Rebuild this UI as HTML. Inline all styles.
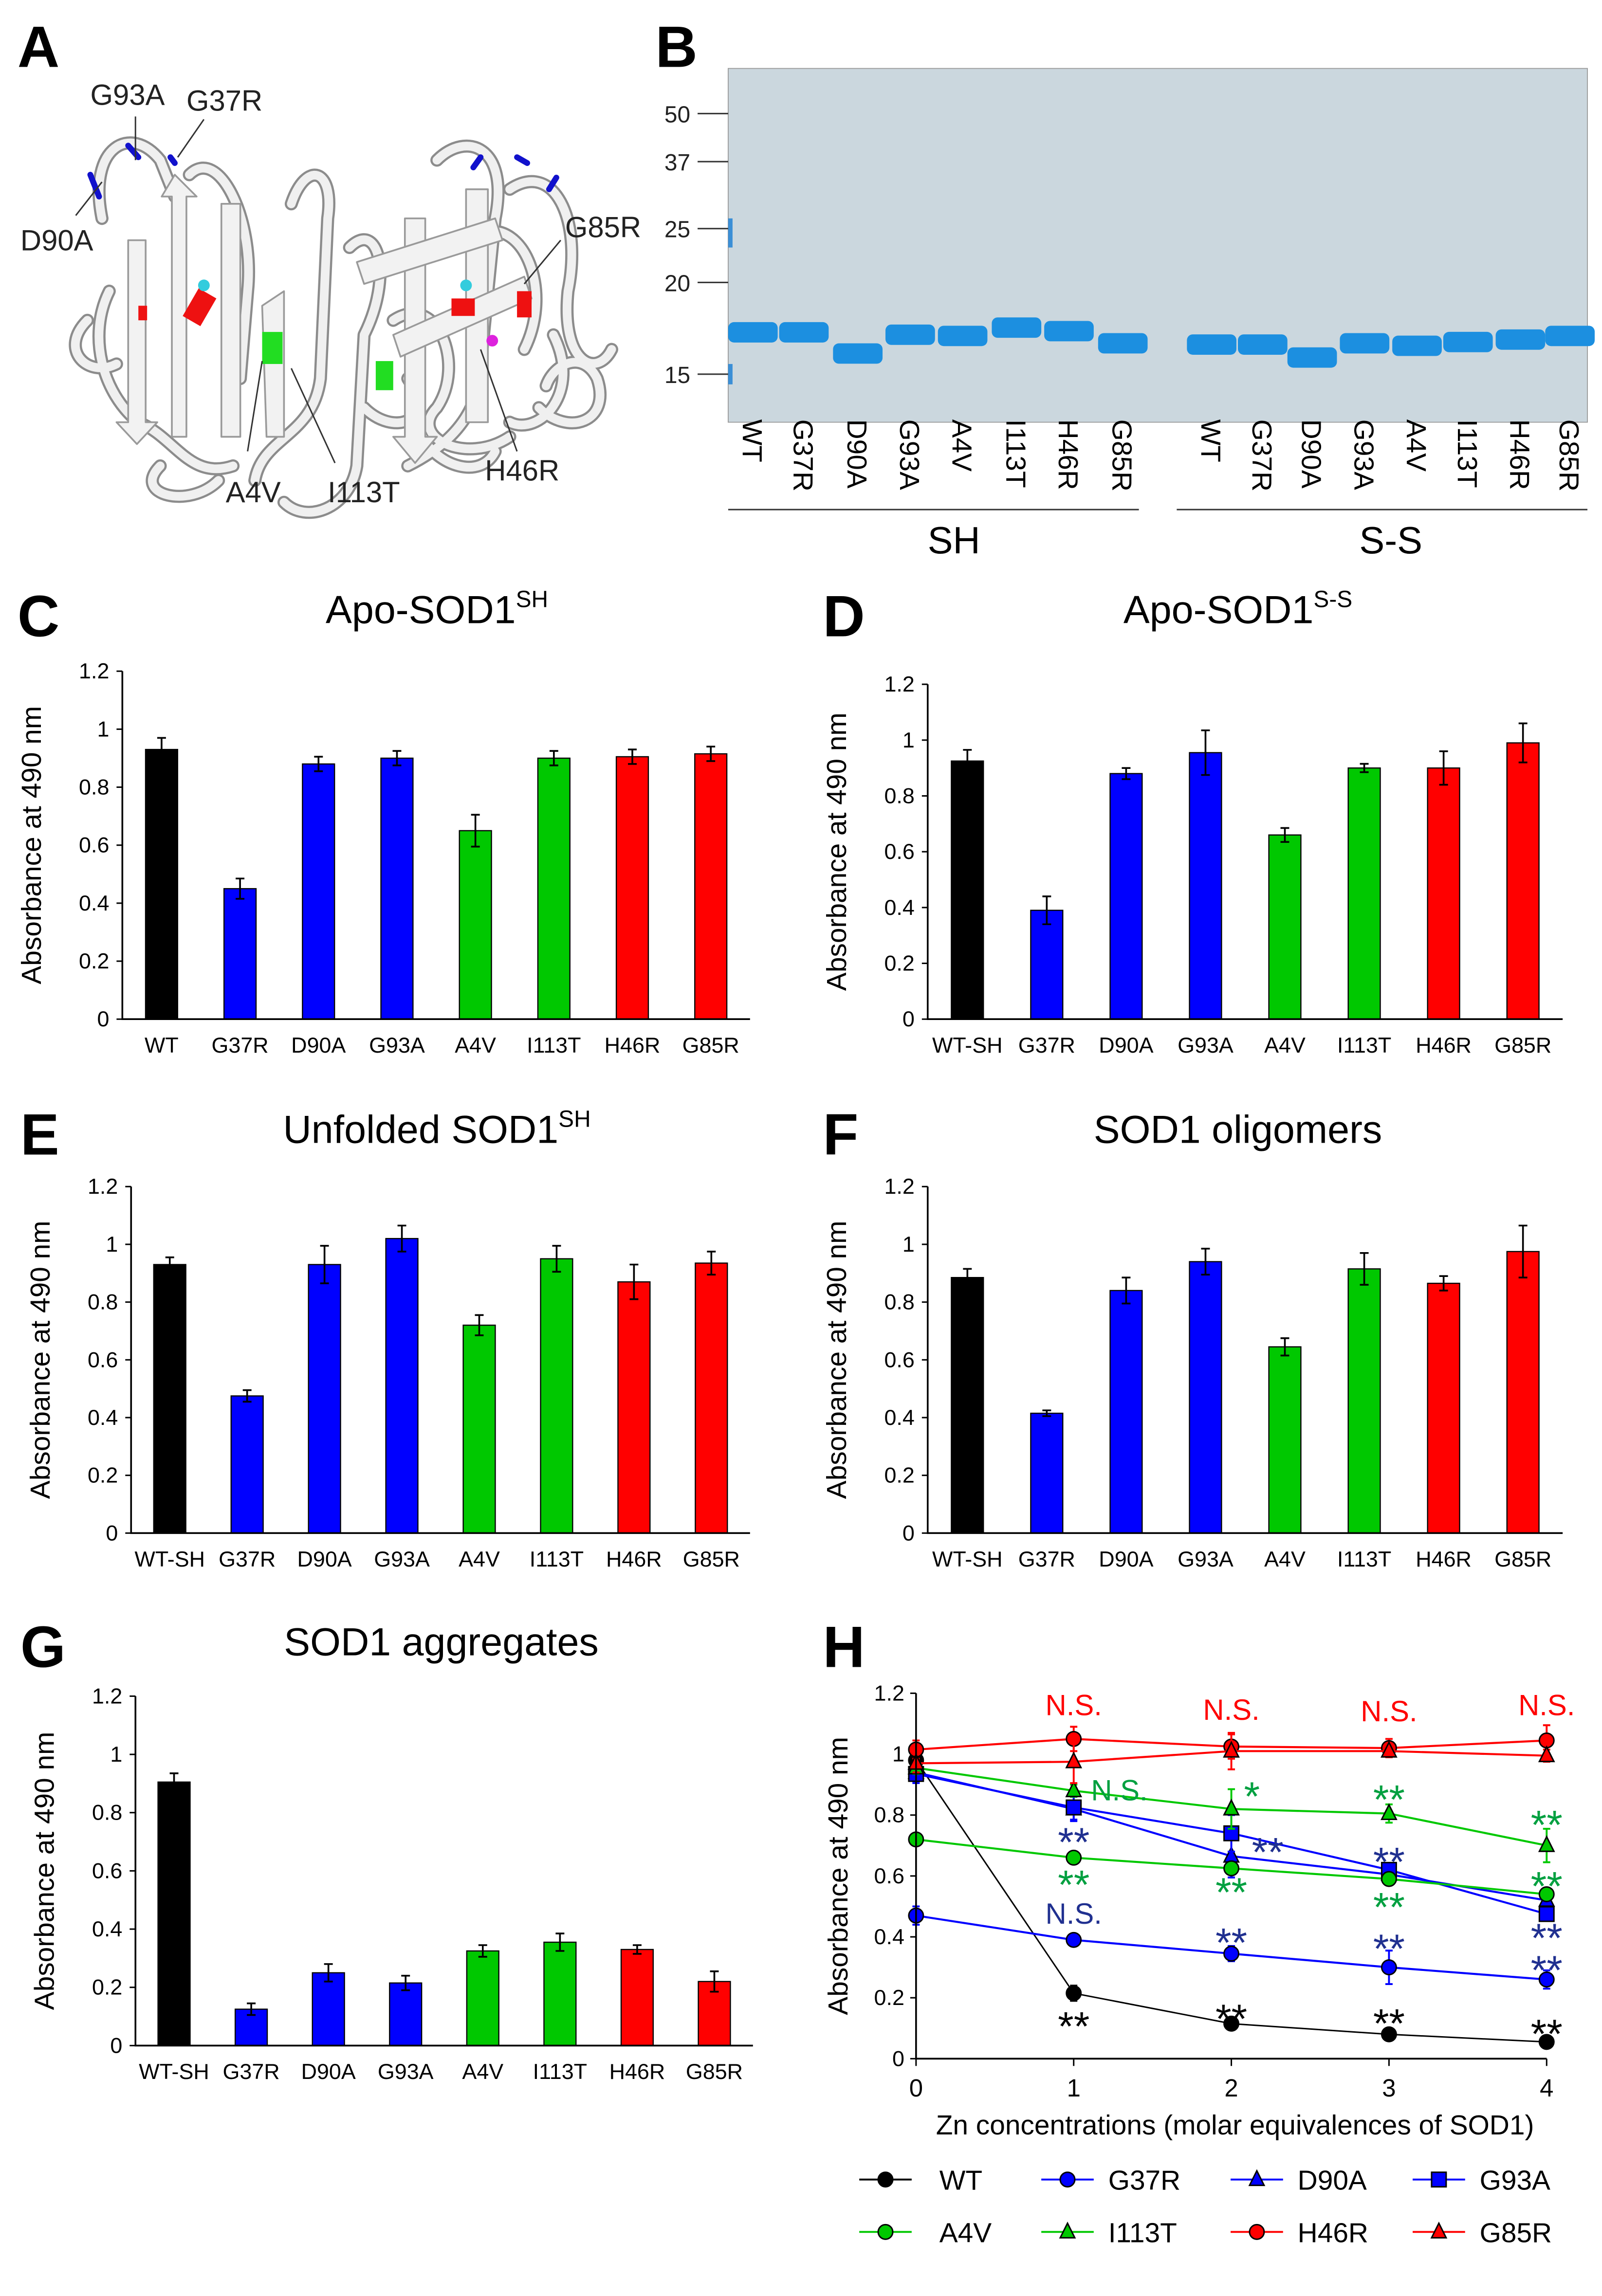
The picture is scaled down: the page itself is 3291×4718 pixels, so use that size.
<!DOCTYPE html>
<html><head><meta charset="utf-8"><style>
html,body{margin:0;padding:0;background:#fff}
svg{display:block;font-family:"Liberation Sans",Arial,sans-serif}
</style></head><body>
<svg id="fig" xmlns="http://www.w3.org/2000/svg" width="3291" height="4718" viewBox="0 0 1100 1577">
<rect x="0" y="0" width="1100" height="1577" fill="#fff"/>
<text x="12" y="46" font-size="40" font-weight="bold">A</text>
<text x="450" y="46" font-size="40" font-weight="bold">B</text>
<!-- Panel A: structure illustration -->
<g fill="none" stroke-linecap="round" stroke-linejoin="round">
 <g stroke="#8c8c8c" stroke-width="9">
  <path d="M70 150 C60 100 90 85 110 110 L120 135 M130 120 C150 100 175 150 170 200 L165 260 M75 200 C60 230 70 270 95 290 C120 300 130 330 160 320"/>
  <path d="M200 140 C210 110 230 115 225 150 L220 260 C215 300 180 300 175 330 M240 170 C260 150 270 190 250 230 L245 320 C240 350 210 360 195 345"/>
  <path d="M60 220 C40 240 60 260 80 250 M110 320 C90 340 130 350 150 330 M250 280 C270 300 300 290 280 260"/>
  <path d="M300 110 C320 90 350 100 340 150 L330 250 C330 290 300 310 280 320 M350 130 C380 110 400 150 390 200 C385 250 410 260 420 240"/>
  <path d="M330 160 C360 150 380 200 360 240 M270 220 C300 200 320 250 300 280 C280 300 320 320 350 300 M380 230 C400 270 370 300 350 290"/>
  <path d="M290 300 C300 320 330 330 340 310 M370 280 C390 300 420 290 410 260 C400 240 380 250 375 265"/>
 </g>
 <g stroke="#f0f0f0" stroke-width="6">
  <path d="M70 150 C60 100 90 85 110 110 L120 135 M130 120 C150 100 175 150 170 200 L165 260 M75 200 C60 230 70 270 95 290 C120 300 130 330 160 320"/>
  <path d="M200 140 C210 110 230 115 225 150 L220 260 C215 300 180 300 175 330 M240 170 C260 150 270 190 250 230 L245 320 C240 350 210 360 195 345"/>
  <path d="M60 220 C40 240 60 260 80 250 M110 320 C90 340 130 350 150 330 M250 280 C270 300 300 290 280 260"/>
  <path d="M300 110 C320 90 350 100 340 150 L330 250 C330 290 300 310 280 320 M350 130 C380 110 400 150 390 200 C385 250 410 260 420 240"/>
  <path d="M330 160 C360 150 380 200 360 240 M270 220 C300 200 320 250 300 280 C280 300 320 320 350 300 M380 230 C400 270 370 300 350 290"/>
  <path d="M290 300 C300 320 330 330 340 310 M370 280 C390 300 420 290 410 260 C400 240 380 250 375 265"/>
 </g>
 <g fill="#f2f2f2" stroke="#9a9a9a" stroke-width="1.2">
  <polygon points="88,165 100,165 100,290 108,290 94,305 80,290 88,290"/>
  <polygon points="120,120 135,135 128,135 128,300 118,300 118,135 111,135"/>
  <polygon points="152,140 165,140 165,300 152,300"/>
  <polygon points="180,210 195,200 195,300 183,300"/>
  <polygon points="278,150 292,150 292,300 300,300 285,318 270,300 278,300"/>
  <polygon points="320,130 335,130 335,290 320,290"/>
  <polygon points="245,180 340,150 345,165 250,195"/>
  <polygon points="270,230 360,190 365,205 275,245"/>
 </g>
 <rect x="180" y="228" width="14" height="22" fill="#22dd22"/>
 <rect x="258" y="248" width="12" height="20" fill="#22dd22"/>
 <rect x="130" y="200" width="14" height="22" fill="#ee1111" transform="rotate(30 137 211)"/>
 <rect x="310" y="205" width="16" height="12" fill="#ee1111"/>
 <rect x="355" y="200" width="10" height="18" fill="#ee1111"/>
 <rect x="95" y="210" width="6" height="10" fill="#ee1111"/>
 <circle cx="140" cy="196" r="4" fill="#33ccdd"/>
 <circle cx="320" cy="196" r="4" fill="#33ccdd"/>
 <circle cx="338" cy="234" r="4" fill="#dd22dd"/>
 <g stroke="#1111cc" stroke-width="4"><path d="M88 100 L95 108 M62 120 L68 135 M117 108 L120 112 M325 115 L330 108 M355 108 L362 112 M377 130 L382 122"/></g>
</g>
<g id="annA" stroke="#333" stroke-width="1">
 <line x1="93" y1="80" x2="93" y2="110"/><line x1="140" y1="82" x2="122" y2="108"/>
 <line x1="52" y1="148" x2="70" y2="125"/><line x1="385" y1="165" x2="360" y2="195"/>
 <line x1="170" y1="310" x2="180" y2="248"/><line x1="230" y1="318" x2="200" y2="253"/>
 <line x1="355" y1="310" x2="330" y2="240"/>
</g>
<g font-size="20" fill="#222">
 <text x="62" y="72">G93A</text><text x="128" y="76">G37R</text><text x="14" y="172">D90A</text>
 <text x="388" y="163">G85R</text><text x="155" y="345">A4V</text><text x="225" y="345">I113T</text><text x="333" y="330">H46R</text>
</g>
<!-- Panel B gel -->
<g>
 <rect x="500" y="47" width="590" height="243" fill="#cbd7de" stroke="#999" stroke-width="0.6"/>
 <rect x="500" y="150" width="3" height="20" fill="#3b8fd6"/><rect x="500" y="250" width="3" height="14" fill="#3b8fd6"/>
</g>
<g id="gelLanes"></g>
<g font-size="16" fill="#222" text-anchor="end">
 <text x="474" y="84">50</text><text x="474" y="117">37</text><text x="474" y="163">25</text><text x="474" y="200">20</text><text x="474" y="263">15</text>
</g>
<g stroke="#333" stroke-width="1">
 <line x1="479" y1="78" x2="500" y2="78"/><line x1="479" y1="111" x2="500" y2="111"/><line x1="479" y1="157" x2="500" y2="157"/><line x1="479" y1="194" x2="500" y2="194"/><line x1="479" y1="257" x2="500" y2="257"/>
 <line x1="500" y1="350" x2="782" y2="350"/><line x1="808" y1="350" x2="1090" y2="350"/>
</g>
<text x="655" y="380" font-size="26" text-anchor="middle">SH</text>
<text x="955" y="380" font-size="26" text-anchor="middle">S-S</text>
<g id="charts"></g>
</svg>
<script>
// ---------- data ----------
var gelLanes = ["WT","G37R","D90A","G93A","A4V","I113T","H46R","G85R"];
var gelSHkDa = [18.2,18.2,16.5,18.0,17.9,18.6,18.3,17.3];
var gelSSkDa = [17.2,17.2,16.2,17.3,17.1,17.4,17.6,17.9];

var barCats = ["WT","G37R","D90A","G93A","A4V","I113T","H46R","G85R"];
var barCatsB = ["WT-SH","G37R","D90A","G93A","A4V","I113T","H46R","G85R"];
var barGroups = ["wt","blue","blue","blue","green","green","red","red"];
var yTicks = [0,0.2,0.4,0.6,0.8,1,1.2];
var yTickLabels = ["0","0.2","0.4","0.6","0.8","1","1.2"];

var valsC = [0.93,0.45,0.88,0.90,0.65,0.90,0.905,0.915];
var errC  = [0.04,0.035,0.025,0.025,0.055,0.025,0.025,0.025];
var valsD = [0.925,0.39,0.88,0.955,0.66,0.90,0.90,0.99];
var errD  = [0.04,0.05,0.02,0.08,0.025,0.015,0.06,0.07];
var valsE = [0.93,0.475,0.93,1.02,0.72,0.95,0.87,0.935];
var errE  = [0.025,0.02,0.065,0.045,0.035,0.045,0.06,0.04];
var valsF = [0.885,0.415,0.84,0.94,0.645,0.915,0.865,0.975];
var errF  = [0.03,0.01,0.045,0.045,0.03,0.055,0.025,0.09];
var valsG = [0.905,0.125,0.25,0.215,0.325,0.355,0.33,0.22];
var errG  = [0.03,0.02,0.03,0.025,0.02,0.03,0.015,0.035];

var zn = [0,1,2,3,4];
var hWT   = [0.98,0.215,0.115,0.08,0.055];
var hG37R = [0.47,0.39,0.345,0.30,0.26];
var hD90A = [0.94,0.82,0.665,0.605,0.52];
var hG93A = [0.935,0.825,0.74,0.62,0.475];
var hA4V  = [0.72,0.66,0.625,0.59,0.54];
var hI113T= [0.955,0.88,0.82,0.805,0.70];
var hH46R = [1.015,1.05,1.025,1.02,1.045];
var hG85R = [0.97,0.975,1.01,1.01,0.995];
var errWT = [0.03,0.025,0.015,0.01,0.01];
var errG37R=[0.03,0.02,0.025,0.055,0.03];
var errD90A=[0.03,0.04,0.07,0.02,0.02];
var errG93A=[0.03,0.04,0.06,0.02,0.02];
var errA4V = [0.02,0.01,0.01,0.015,0.02];
var errI113T=[0.02,0.02,0.065,0.03,0.055];
var errH46R= [0.03,0.04,0.04,0.03,0.05];
var errG85R= [0.03,0.07,0.06,0.02,0.02];
var hXTickLabels = ["0","1","2","3","4"];

var NS="http://www.w3.org/2000/svg";
var fig=document.getElementById("charts");
function mk(tag,attrs,parent,txt){var e=document.createElementNS(NS,tag);for(var k in attrs)e.setAttribute(k,attrs[k]);if(txt!=null)e.textContent=txt;(parent||fig).appendChild(e);return e;}
var colorOf={wt:"#000",blue:"#0000ff",green:"#00c800",red:"#ff0000"};

// ---------- gel ----------
var gl=document.getElementById("gelLanes");
function kdaY(k){var a=Math.log(50),b=Math.log(15);return 78+(Math.log(50)-Math.log(k))/(a-b)*(257-78);}
var shX=[517,552,589,625,661,698,734,771], ssX=[832,867,901,937,973,1008,1044,1078];
gelLanes.forEach(function(n,i){
  var b=mk("rect",{x:shX[i]-17,y:kdaY(gelSHkDa[i])-7,width:34,height:14,rx:4,fill:"#1c8fe0"},gl);
  
  
  var c=mk("rect",{x:ssX[i]-17,y:kdaY(gelSSkDa[i])-7,width:34,height:14,rx:4,fill:"#1c8fe0"},gl);
  
  
  [[shX[i],'sh'],[ssX[i],'ss']].forEach(function(p){
    var t=mk("text",{x:p[0]-7,y:288,"font-size":19,transform:"rotate(90 "+(p[0]-7)+" 288)"},gl,n);
    
    
  });
});

// ---------- bar charts ----------
function barChart(id,title,sup,cats,vals,errs,L,R,y0,y12,tx,ty,letter,lx,ly){
  var g=mk("g",{});
  
  
  var sy=function(v){return y0-(v/1.2)*(y0-y12);};
  var band=(R-L)/cats.length;
  var sx=function(i){return L+band*(i+0.5);};
  var pl=mk("text",{x:lx,y:ly,"font-size":40,"font-weight":"bold"},g,letter);
  
  
  var tt=mk("text",{x:tx,y:ty,"font-size":27,"text-anchor":"middle"},g);
  
  
  mk("tspan",{},tt,title);
  if(sup) mk("tspan",{"font-size":16,dy:-11},tt,sup);
  var yl=mk("text",{x:0,y:0,"font-size":19,"text-anchor":"middle",transform:"translate("+(L-56)+","+((y0+y12)/2)+") rotate(-90)"},g,"Absorbance at 490 nm");
  
  
  yTicks.forEach(function(v,k){
    var tl=mk("text",{x:L-9,y:sy(v)+5,"font-size":15,"text-anchor":"end"},g,yTickLabels[k]);
    
    
    mk("line",{x1:L-4,x2:L,y1:sy(v),y2:sy(v),stroke:"#000","stroke-width":1},g);
  });
  vals.forEach(function(v,i){
    var c=colorOf[barGroups[i]];
    var w=22;
    var r=mk("rect",{x:sx(i)-w/2,y:sy(v),width:w,height:sy(0)-sy(v),fill:c,stroke:"#000","stroke-width":0.8},g);
    
    
    var e=errs[i];
    var eb=mk("path",{d:"M"+sx(i)+" "+sy(v-e)+"V"+sy(v+e)+"M"+(sx(i)-3)+" "+sy(v+e)+"h6M"+(sx(i)-3)+" "+sy(v-e)+"h6",stroke:"#000","stroke-width":1.2,fill:"none"},g);
    
    
    var xl=mk("text",{x:sx(i),y:y0+23,"font-size":15,"text-anchor":"middle"},g,cats[i]);
    
    
  });
  mk("path",{d:"M"+L+" "+y12+"V"+y0+"H"+R,stroke:"#000","stroke-width":1.2,fill:"none"},g);
}
barChart("c","Apo-SOD1","SH",barCats,valsC,errC,84,515,700,461,300,428,"C",12,437);
barChart("d","Apo-SOD1","S-S",barCatsB,valsD,errD,637,1073,700,470,850,428,"D",565,437);
barChart("e","Unfolded SOD1","SH",barCatsB,valsE,errE,90,515,1053,815,300,785,"E",14,793);
barChart("f","SOD1 oligomers",null,barCatsB,valsF,errF,637,1073,1053,815,850,785,"F",565,793);
barChart("g","SOD1 aggregates",null,barCatsB,valsG,errG,93,517,1405,1165,303,1137,"G",14,1145);

// ---------- panel H ----------
(function(){
  var L=629,R=1062,y0=1414,y12=1163;
  var sx=function(x){return L+(x/4)*(R-L);};
  var sy=function(v){return y0-(v/1.2)*(y0-y12);};
  var g=mk("g",{});
  
  
  var pl=mk("text",{x:565,y:1145,"font-size":40,"font-weight":"bold"},g,"H");
  
  
  var yl=mk("text",{x:0,y:0,"font-size":19,"text-anchor":"middle",transform:"translate(582,"+((y0+y12)/2)+") rotate(-90)"},g,"Absorbance at 490 nm");
  
  
  yTicks.forEach(function(v,k){
    var tl=mk("text",{x:L-8,y:sy(v)+5,"font-size":15,"text-anchor":"end"},g,yTickLabels[k]);
    
    
    mk("line",{x1:L-4,x2:L,y1:sy(v),y2:sy(v),stroke:"#000"},g);
  });
  zn.forEach(function(x,k){
    var tl=mk("text",{x:sx(x),y:y0+26,"font-size":17,"text-anchor":"middle"},g,hXTickLabels[k]);
    
    
    mk("line",{x1:sx(x),x2:sx(x),y1:y0,y2:y0+5,stroke:"#000"},g);
  });
  var xt=mk("text",{x:848,y:1466,"font-size":19,"text-anchor":"middle"},g,"Zn concentrations (molar equivalences of SOD1)");
  
  
  var series=[
    ["wt","WT",hWT,errWT,"#000","#000","circle"],
    ["g37r","G37R",hG37R,errG37R,"#0000ff","#0000ff","circle"],
    ["d90a","D90A",hD90A,errD90A,"#0000ff","#0000ff","tri"],
    ["g93a","G93A",hG93A,errG93A,"#0000ff","#0000ff","square"],
    ["a4v","A4V",hA4V,errA4V,"#00c800","#00c800","circle"],
    ["i113t","I113T",hI113T,errI113T,"#00c800","#00c800","tri"],
    ["h46r","H46R",hH46R,errH46R,"#ff0000","#ff0000","circle"],
    ["g85r","G85R",hG85R,errG85R,"#ff0000","#ff0000","tri"]];
  function marker(shape,x,y,fill,parent,r){
    r=r||5;
    if(shape=="circle") return mk("circle",{cx:x,cy:y,r:r,fill:fill,stroke:"#000","stroke-width":1},parent);
    if(shape=="square") return mk("rect",{x:x-r,y:y-r,width:2*r,height:2*r,fill:fill,stroke:"#000","stroke-width":1},parent);
    return mk("polygon",{points:x+","+(y-r-1)+" "+(x+r)+","+(y+r-1)+" "+(x-r)+","+(y+r-1),fill:fill,stroke:"#000","stroke-width":1},parent);
  }
  series.forEach(function(s){
    var sg=mk("g",{},g);
    
    
    var d=s[2].map(function(v,i){return (i?"L":"M")+sx(zn[i])+" "+sy(v);}).join("");
    var ln=mk("path",{d:d,stroke:s[4],"stroke-width":s[0]=="wt"?1:1.4,fill:"none"},sg);
    
    
    s[2].forEach(function(v,i){
      var e=s[3][i];
      mk("path",{d:"M"+sx(zn[i])+" "+sy(v-e)+"V"+sy(v+e)+"M"+(sx(zn[i])-2.5)+" "+sy(v+e)+"h5M"+(sx(zn[i])-2.5)+" "+sy(v-e)+"h5",stroke:s[4],"stroke-width":1.3,fill:"none"},sg);
      var m=marker(s[6],sx(zn[i]),sy(v),s[5],sg);
      
      
    });
  });
  mk("path",{d:"M"+L+" "+y12+"V"+y0+"H"+R,stroke:"#000","stroke-width":1.2,fill:"none"},g);
  // significance annotations: N.S. -> [x, baseline value]; asterisks -> [x, glyph-centre value]
  var ann=[[1,1.128,"N.S.","#ff0000"],[2,1.113,"N.S.","#ff0000"],[3,1.108,"N.S.","#ff0000"],[4,1.128,"N.S.","#ff0000"],
    [1.11,0.848,"N.S.","#00a040"],[2.08,0.893,"*","#00a040"],[3,0.883,"**","#00a040"],[4,0.80,"**","#00a040"],
    [1,0.603,"**","#00a040"],[2,0.578,"**","#00a040"],[3,0.53,"**","#00a040"],[4,0.598,"**","#00a040"],
    [1,0.743,"**","#203090"],[2.13,0.71,"**","#203090"],[3,0.678,"**","#203090"],[4,0.428,"**","#203090"],
    [1,0.443,"N.S.","#203090"],[2,0.413,"**","#203090"],[3,0.393,"**","#203090"],[4,0.323,"**","#203090"],
    [1,0.138,"**","#000"],[2,0.163,"**","#000"],[3,0.148,"**","#000"],[4,0.113,"**","#000"]];
  ann.forEach(function(a){
    var isNS=a[2]=="N.S.";
    var fs=isNS?20:28;
    var frac=a[0]%1!==0;
    var t=mk("text",{x:sx(a[0]),y:isNS?sy(a[1]):sy(a[1])+0.58*fs,"font-size":fs,"text-anchor":frac?"start":"middle",fill:a[3]},g,a[2]);
    
    
  });
  // legend
  var lx=[590,715,845,970], ly=[1497,1533];
  series.forEach(function(s,i){
    var x=lx[i%4], y=ly[Math.floor(i/4)];
    var lg=mk("g",{},g);
    
    
    mk("line",{x1:x,x2:x+36,y1:y,y2:y,stroke:s[4],"stroke-width":1.3},lg);
    marker(s[6],x+18,y,s[5],lg);
    mk("text",{x:x+(i%4==0?55:46),y:y+7,"font-size":19},lg,s[1]);
  });
})();
</script>
</body></html>
